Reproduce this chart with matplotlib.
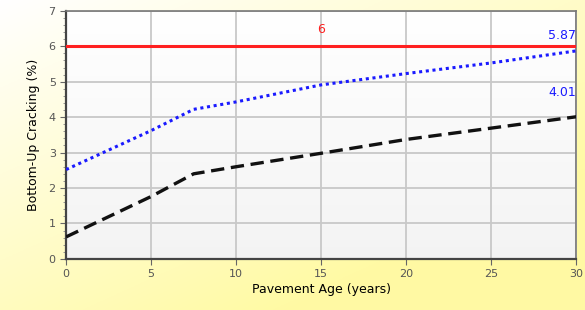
import matplotlib
matplotlib.use("Agg")
import matplotlib.pyplot as plt
import numpy as np
from matplotlib.ticker import MultipleLocator

# data
age = [0, 5, 7.5, 10, 15, 20, 25, 30]
crack_blue = [2.52, 3.62, 4.22, 4.43, 4.91, 5.23, 5.53, 5.87]
crack_black = [0.62, 1.76, 2.4, 2.6, 2.98, 3.37, 3.69, 4.01]
limit = 6

fig = plt.figure(figsize=(5.85, 3.1), dpi=100)

# yellowish background gradient (white top-left -> pale yellow bottom-right)
bg = fig.add_axes([0, 0, 1, 1], zorder=-10)
gx, gy = np.meshgrid(np.linspace(0, 1, 200), np.linspace(0, 1, 200))
g = np.clip((gx * 0.6 + gy * 0.7), 0, 1)
img = np.zeros((200, 200, 3))
img[..., 0] = 1.0
img[..., 1] = 1.0 - 0.02 * g
img[..., 2] = 1.0 - 0.36 * g
bg.imshow(img, extent=[0, 1, 0, 1], aspect="auto", origin="upper")
bg.axis("off")

ax = fig.add_axes([0.113, 0.165, 0.872, 0.8])

# plot area gradient
pg = np.linspace(1.0, 0.955, 100).reshape(-1, 1)
ax.imshow(np.dstack([pg, pg, pg]), extent=[0, 30, 0, 7], aspect="auto",
          origin="upper", zorder=0)

ax.axhline(limit, color="#ff2020", lw=2.2, zorder=3)
ax.plot(age, crack_blue, color="#1a1aff", lw=2.2, ls=(0, (1, 1.2)), zorder=4)
ax.plot(age, crack_black, color="#111111", lw=2.4, ls=(0, (4, 2)), zorder=4)

ax.text(15, limit + 0.3, "6", color="#ff2020", fontsize=9, ha="center", va="bottom")
ax.text(30, crack_blue[-1] + 0.25, "5.87", color="#1a1aff", fontsize=9,
        ha="right", va="bottom")
ax.text(30, crack_black[-1] + 0.5, "4.01", color="#1a1aff", fontsize=9,
        ha="right", va="bottom")

ax.set_xlim(0, 30)
ax.set_ylim(0, 7)
ax.xaxis.set_major_locator(MultipleLocator(5))
ax.yaxis.set_major_locator(MultipleLocator(1))
ax.yaxis.set_minor_locator(MultipleLocator(0.2))
ax.grid(True, color="#c8c8c8", lw=1.3, zorder=1)
ax.set_axisbelow(True)
ax.tick_params(axis="both", which="major", length=4, color="#666666",
               labelsize=8, labelcolor="#555555")
ax.tick_params(axis="y", which="minor", length=2, color="#888888")
for s in ax.spines.values():
    s.set_color("#777777")
    s.set_linewidth(1.2)
ax.spines["left"].set_color("#444444")
ax.spines["bottom"].set_color("#444444")
ax.spines["left"].set_linewidth(1.6)
ax.spines["bottom"].set_linewidth(1.6)

ax.set_xlabel("Pavement Age (years)", fontsize=9, labelpad=3)
ax.set_ylabel("Bottom-Up Cracking (%)", fontsize=9, labelpad=6)

fig.savefig("out.png", dpi=100)
